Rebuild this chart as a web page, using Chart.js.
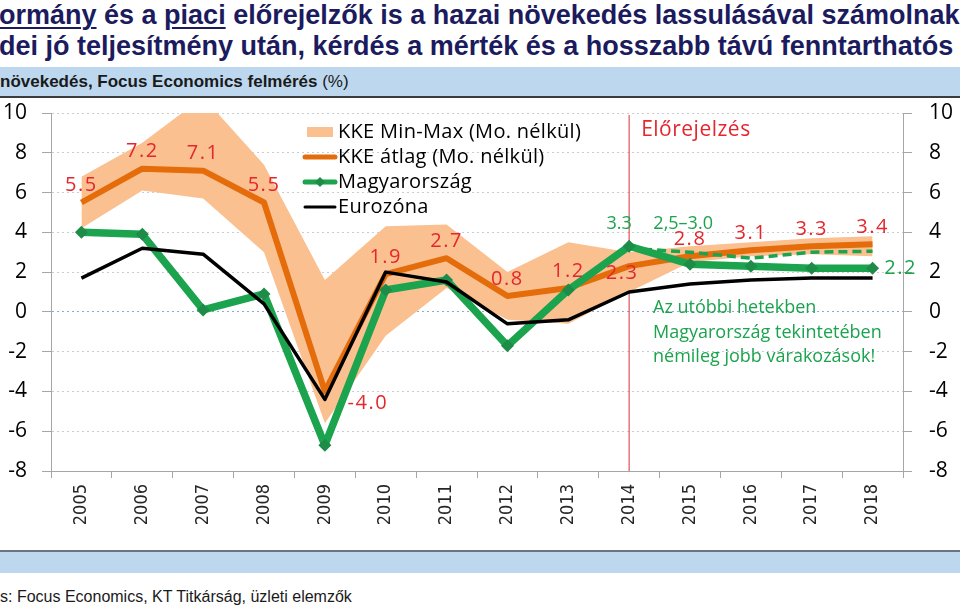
<!DOCTYPE html>
<html>
<head>
<meta charset="utf-8">
<script src="https://cdn.jsdelivr.net/npm/chart.js@4.4.0/dist/chart.umd.min.js"></script>
<style>
    body { margin: 0; width: 960px; height: 609px; overflow: hidden; background: #fff; position: relative; font-family: "Liberation Sans", Arial, sans-serif; }
    .title { position: absolute; left: -1px; white-space: nowrap; font-weight: bold; font-size: 27px; color: #1b1b5e; line-height: 30px; }
    .title u { text-decoration-thickness: 2px; text-underline-offset: 3px; }
    .band { position: absolute; left: 0; width: 960px; background: #bdd7ee; }
    .subtitle { font-size: 17px; font-weight: bold; color: #1a1a1a; line-height: 29px; white-space: nowrap; }
    .subtitle span { font-weight: normal; }
    .rule { position: absolute; left: 0; width: 960px; height: 2px; }
    .footer { position: absolute; left: 0; top: 588px; font-size: 16px; color: #1a1a1a; white-space: nowrap; }
    #wrap { position: absolute; left: 0; top: 0; width: 960px; height: 609px; }
</style>
</head>
<body>
<div class="title" style="top:0px"><u>ormány</u> és a <u>piaci</u> előrejelzők is a hazai növekedés lassulásával számolnak</div>
<div class="title" style="top:31px">dei jó teljesítmény után, kérdés a mérték és a hosszabb távú fenntarthatós</div>
<div class="band subtitle" style="top:67px;height:29px">növekedés, Focus Economics felmérés <span>(%)</span></div>
<div class="rule" style="top:96px;background:#3c3c3c"></div>
<div class="rule" style="top:550px;background:#6b7480"></div>
<div class="band" style="top:552px;height:21px"></div>
<div class="footer">s: Focus Economics, KT Titkárság, üzleti elemzők</div>
<div id="wrap"><canvas id="growthChart" width="960" height="609"></canvas></div>

<script>
var years = ['2005', '2006', '2007', '2008', '2009', '2010', '2011', '2012', '2013', '2014', '2015', '2016', '2017', '2018'];

var kkeMax = [6.8, 8.5, 10.8, 7.4, 1.6, 4.3, 4.4, 2.0, 3.5, 3.0, 3.3, 3.5, 3.7, 3.8];
var kkeMin = [4.2, 6.1, 5.7, 3.0, -5.6, -1.2, 1.2, -0.4, -0.6, 1.0, 2.5, 2.8, 2.9, 2.8];
var kkeAtlag = [5.5, 7.2, 7.1, 5.5, -4.0, 1.9, 2.7, 0.8, 1.2, 2.3, 2.8, 3.1, 3.3, 3.4];
var magyarorszag = [4.0, 3.9, 0.1, 0.9, -6.7, 1.1, 1.6, -1.7, 1.1, 3.3, 2.4, 2.3, 2.2, 2.2];
var magyarKorabbi = [null, null, null, null, null, null, null, null, null, 3.2, 3.0, 2.7, 3.0, 3.05];
var eurozona = [1.7, 3.2, 2.9, 0.4, -4.4, 2.0, 1.5, -0.6, -0.4, 1.0, 1.4, 1.6, 1.7, 1.7];

var yTicks = [-8, -6, -4, -2, 0, 2, 4, 6, 8, 10];
var forecastStart = '2014';
var rangeText = '2,5–3.0';
var noteLines = ['Az utóbbi hetekben', 'Magyarország tekintetében', 'némileg jobb várakozások!'];

var ORANGE = '#e46c0a';
var BAND = '#fac090';
var GREEN = '#1ba34e';
var RED = '#e5262d';
var CAL = '"Open Sans", Lato, sans-serif';

// red forecast line, behind the series
var forecastLine = {
    id: 'forecastLine',
    beforeDatasetsDraw: function(chart) {
        var ctx = chart.ctx, area = chart.chartArea;
        var x = chart.scales.x.getPixelForValue(years.indexOf(forecastStart));
        ctx.save();
        ctx.strokeStyle = '#e0505c';
        ctx.lineWidth = 1.2;
        ctx.beginPath();
        ctx.moveTo(x, area.top + 2);
        ctx.lineTo(x, area.bottom);
        ctx.stroke();
        ctx.restore();
    }
};

// value labels, legend and notes
var labelsPlugin = {
    id: 'labelsPlugin',
    afterDatasetsDraw: function(chart) {
        var ctx = chart.ctx;
        var xs = chart.scales.x, ys = chart.scales.y;
        var fx = xs.getPixelForValue(years.indexOf(forecastStart));
        ctx.save();
        ctx.textAlign = 'center';
        ctx.textBaseline = 'middle';

        // KKE average labels (red)
        ctx.fillStyle = RED;
        ctx.font = '20px ' + CAL;
        ctx.letterSpacing = '1.5px';
        kkeAtlag.forEach(function(v, i) {
            var px = xs.getPixelForValue(i);
            var py = ys.getPixelForValue(v);
            var dx = 0, dy = -17;
            if (years[i] === '2009') { dx = 43; dy = 12; }      // below right of the dip
            if (years[i] === '2014') { dx = -7; dy = 7; }       // under the line
            ctx.fillText(v.toFixed(1), px + dx, py + dy);
        });

        // Hungary labels (green)
        ctx.fillStyle = GREEN;
        ctx.font = '18px ' + CAL;
        ctx.letterSpacing = '0px';
        var iF = years.indexOf(forecastStart);
        ctx.fillText(magyarorszag[iF].toFixed(1), fx - 10, ys.getPixelForValue(magyarorszag[iF]) - 22);
        ctx.fillText(rangeText, fx + 54, ys.getPixelForValue(magyarorszag[iF]) - 22);
        var iL = years.length - 1;
        ctx.font = '20px ' + CAL;
        ctx.letterSpacing = '1.5px';
        ctx.fillText(magyarorszag[iL].toFixed(1), xs.getPixelForValue(iL) + 28, ys.getPixelForValue(magyarorszag[iL]));
        ctx.letterSpacing = '0px';

        // note text
        ctx.textAlign = 'left';
        ctx.font = '18px ' + CAL;
        noteLines.forEach(function(t, k) {
            ctx.fillText(t, 653, 308 + k * 24.5);
        });

        // forecast header
        ctx.fillStyle = RED;
        ctx.font = '21px ' + CAL;
        ctx.letterSpacing = '0.5px';
        ctx.fillText('Előrejelzés', fx + 12, 130);

        // legend
        var lx = 303, tx = 338;
        ctx.font = '20px ' + CAL;
        ctx.letterSpacing = '0.3px';
        ctx.fillStyle = BAND;
        ctx.fillRect(lx + 4, 127, 26, 10);
        ctx.lineCap = 'round';
        ctx.strokeStyle = ORANGE;
        ctx.lineWidth = 5;
        ctx.beginPath(); ctx.moveTo(lx + 2, 157); ctx.lineTo(lx + 32, 157); ctx.stroke();
        ctx.strokeStyle = GREEN;
        ctx.beginPath(); ctx.moveTo(lx + 2, 182); ctx.lineTo(lx + 32, 182); ctx.stroke();
        ctx.fillStyle = '#1e8c49';
        ctx.beginPath();
        ctx.moveTo(lx + 17, 177); ctx.lineTo(lx + 22, 182); ctx.lineTo(lx + 17, 187); ctx.lineTo(lx + 12, 182);
        ctx.closePath(); ctx.fill();
        ctx.strokeStyle = '#000';
        ctx.lineWidth = 3;
        ctx.beginPath(); ctx.moveTo(lx + 2, 207); ctx.lineTo(lx + 32, 207); ctx.stroke();
        ctx.fillStyle = '#000';
        ctx.fillText('KKE Min-Max (Mo. nélkül)', tx, 132);
        ctx.fillText('KKE átlag (Mo. nélkül)', tx, 157);
        ctx.fillText('Magyarország', tx, 182);
        ctx.fillText('Eurozóna', tx, 207);
        ctx.restore();
    }
};

function yAxis(position, width, padding, grid) {
    return {
        position: position,
        min: yTicks[0],
        max: yTicks[yTicks.length - 1],
        afterBuildTicks: function(scale) {
            scale.ticks = yTicks.map(function(v) { return { value: v }; });
        },
        afterFit: function(scale) { scale.width = width; },
        ticks: { padding: padding, color: '#000', font: { family: CAL, size: 21 } },
        grid: grid,
        border: { color: '#a6a6a6', dash: [2, 3] }
    };
}

new Chart(document.getElementById('growthChart'), {
    type: 'line',
    data: {
        labels: years,
        datasets: [
            { label: 'KKE max', data: kkeMax, fill: '+1', backgroundColor: BAND, borderColor: 'rgba(0,0,0,0)', borderWidth: 0, pointRadius: 0, order: 5 },
            { label: 'KKE min', data: kkeMin, fill: false, borderColor: 'rgba(0,0,0,0)', borderWidth: 0, pointRadius: 0, order: 5 },
            { label: 'KKE átlag (Mo. nélkül)', data: kkeAtlag, borderColor: ORANGE, borderWidth: 6, pointRadius: 0, order: 3 },
            { label: 'Magyarország', data: magyarorszag, borderColor: GREEN, borderWidth: 7.5, pointStyle: 'rectRot', pointRadius: 6.5,
              pointBackgroundColor: '#1e8c49', pointBorderWidth: 0, order: 2 },
            { label: 'Magyarország korábban', data: magyarKorabbi, borderColor: GREEN, borderWidth: 3.5, borderDash: [9, 5], pointRadius: 0, order: 2 },
            { label: 'Eurozóna', data: eurozona, borderColor: '#000', borderWidth: 3.5, pointRadius: 0, order: 1 }
        ]
    },
    options: {
        responsive: false,
        animation: false,
        layout: { padding: { top: 113, left: 0, right: 0, bottom: 0 } },
        elements: { line: { tension: 0, borderJoinStyle: 'round' } },
        plugins: {
            legend: { display: false },  // drawn by labelsPlugin inside the plot
            tooltip: { enabled: false }
        },
        scales: {
            x: {
                offset: true,
                afterFit: function(scale) { scale.height = 138; },
                grid: { offset: true, drawOnChartArea: false, tickLength: 7, color: '#a6a6a6' },
                border: { color: '#a6a6a6' },
                ticks: { minRotation: 90, maxRotation: 90, padding: 6, color: '#262626', font: { family: '"DejaVu Sans Condensed", "DejaVu Sans"', size: 18 } }
            },
            y: yAxis('left', 51, 15, {
                color: function(ctx) { return ctx.tick && ctx.tick.value === 0 ? '#8fa9d6' : '#c9ccd3'; },
                tickColor: '#a6a6a6', tickLength: 9
            }),
            y2: yAxis('right', 57, 17, { drawOnChartArea: false, tickColor: '#a6a6a6', tickLength: 9 })
        }
    },
    plugins: [forecastLine, labelsPlugin]
});
</script>
</body>
</html>
